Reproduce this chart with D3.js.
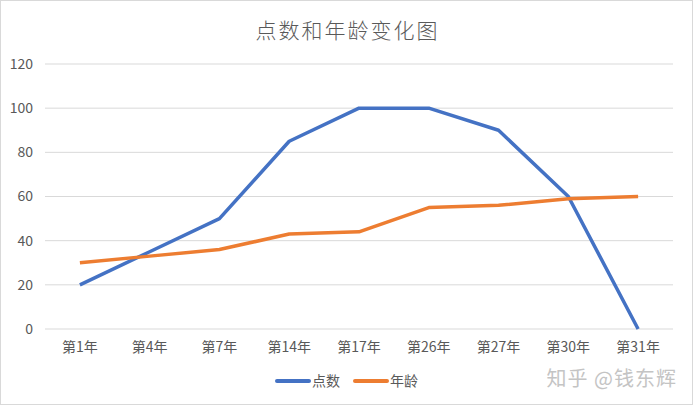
<!DOCTYPE html>
<html>
<head>
<meta charset="utf-8">
<script src="https://cdn.jsdelivr.net/npm/d3@7"></script>
<style>
  body { margin: 0; background: #fff; }
  text { font-family: "Noto Sans CJK SC", "Noto Sans", sans-serif; }
</style>
</head>
<body>
<div id="chart"></div>
<script>
var years = ["第1年", "第4年", "第7年", "第14年", "第17年", "第26年", "第27年", "第30年", "第31年"];
var points = [20, 35, 50, 85, 100, 100, 90, 60, 0];
var ages = [30, 33, 36, 43, 44, 55, 56, 59, 60];
var yTicks = [0, 20, 40, 60, 80, 100, 120];
var seriesNames = ["点数", "年龄"];
var seriesColors = ["#4472C4", "#ED7D31"];

var width = 693, height = 405;
var margin = { top: 64, right: 20, bottom: 76, left: 45 };

var svg = d3.select("#chart")
    .append("svg")
    .attr("width", width)
    .attr("height", height);

// outer border
svg.append("rect")
    .attr("x", 0.5).attr("y", 0.5)
    .attr("width", width - 1).attr("height", height - 1)
    .attr("fill", "#fff")
    .attr("stroke", "#d9d9d9");

svg.append("text")
    .text("点数和年龄变化图")
    .attr("x", width / 2 + 1)
    .attr("y", 38)
    .attr("text-anchor", "middle")
    .attr("fill", "#595959")
    .style("font-size", "21px")
    .style("letter-spacing", "2px")
    .style("font-weight", 300);

var x = d3.scaleBand()
    .domain(years)
    .range([margin.left, width - margin.right]);

var y = d3.scaleLinear()
    .domain([0, 120])
    .range([height - margin.bottom, margin.top]);

// gridlines
svg.append("g")
    .selectAll("line")
    .data(yTicks)
    .join("line")
    .attr("x1", margin.left)
    .attr("x2", width - margin.right)
    .attr("y1", function (d) { return y(d); })
    .attr("y2", function (d) { return y(d); })
    .attr("stroke", "#d9d9d9")
    .attr("stroke-width", 1);

var yAxis = svg.append("g")
    .attr("transform", "translate(" + (margin.left - 9) + ",0)")
    .call(d3.axisLeft(y).tickValues(yTicks).tickSize(0));
yAxis.select(".domain").remove();
yAxis.selectAll("text")
    .attr("fill", "#595959")
    .style("font-size", "14px");

var xAxis = svg.append("g")
    .attr("transform", "translate(0," + (height - margin.bottom + 10) + ")")
    .call(d3.axisBottom(x).tickSize(0));
xAxis.select(".domain").remove();
xAxis.selectAll("text")
    .attr("fill", "#595959")
    .style("font-size", "14px");

var line = d3.line()
    .x(function (d, i) { return x(years[i]) + x.bandwidth() / 2; })
    .y(function (d) { return y(d); });

[points, ages].forEach(function (s, i) {
    svg.append("path")
        .datum(s)
        .attr("d", line)
        .attr("fill", "none")
        .attr("stroke", seriesColors[i])
        .attr("stroke-width", 3.5)
        .attr("stroke-linejoin", "round");
});

// legend
var legend = svg.append("g").attr("transform", "translate(277,381)");
seriesNames.forEach(function (name, i) {
    var g = legend.append("g").attr("transform", "translate(" + (i * 78) + ",0)");
    g.append("line")
        .attr("x1", 0).attr("x2", 32)
        .attr("stroke", seriesColors[i])
        .attr("stroke-width", 4)
        .attr("stroke-linecap", "round");
    g.append("text")
        .text(name)
        .attr("x", 35)
        .attr("y", 5)
        .attr("fill", "#595959")
        .style("font-size", "14px");
});

// watermark
svg.append("text")
    .text("知乎 @钱东辉")
    .attr("x", 677)
    .attr("y", 386)
    .attr("text-anchor", "end")
    .attr("fill", "#c4c4c4")
    .style("font-size", "20px")
    .style("letter-spacing", "1px");
</script>
</body>
</html>
